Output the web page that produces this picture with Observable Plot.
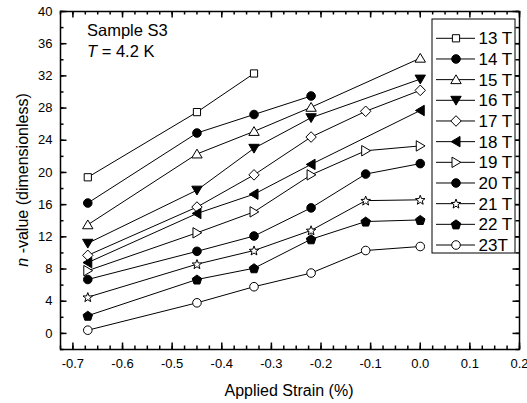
<!DOCTYPE html>
<html><head><meta charset="utf-8">
<script src="https://cdn.jsdelivr.net/npm/d3@7"></script>
<script src="https://cdn.jsdelivr.net/npm/@observablehq/plot@0.6"></script>
<style>
body{margin:0;background:#fff;}
#chart{position:relative;width:527px;height:403px;}
svg{font-family:"Liberation Sans",Arial,sans-serif;}
</style>
</head><body><div id="chart"></div>
<script>
// ---- data ----
const fieldLabels = ["13 T","14 T","15 T","16 T","17 T","18 T","19 T","20 T","21 T","22 T","23T"];
const strain13 = [-0.67,-0.45,-0.335];                 const n13 = [19.4,27.5,32.3];
const strain14 = [-0.67,-0.45,-0.335,-0.22];           const n14 = [16.2,24.9,27.2,29.5];
const strain15 = [-0.67,-0.45,-0.335,-0.22,0];         const n15 = [13.5,22.3,25.1,28.1,34.2];
const strain16 = [-0.67,-0.45,-0.335,-0.22,0];         const n16 = [11.2,17.8,23.0,26.8,31.6];
const strain17 = [-0.67,-0.45,-0.335,-0.22,-0.11,0];   const n17 = [9.7,15.7,19.7,24.4,27.6,30.2];
const strain18 = [-0.67,-0.45,-0.335,-0.22,0];         const n18 = [8.8,14.9,17.3,21.0,27.7];
const strain19 = [-0.67,-0.45,-0.335,-0.22,-0.11,0];   const n19 = [7.8,12.5,15.1,19.7,22.7,23.3];
const strain20 = [-0.67,-0.45,-0.335,-0.22,-0.11,0];   const n20 = [6.7,10.2,12.1,15.6,19.8,21.1];
const strain21 = [-0.67,-0.45,-0.335,-0.22,-0.11,0];   const n21 = [4.5,8.6,10.3,12.8,16.5,16.6];
const strain22 = [-0.67,-0.45,-0.335,-0.22,-0.11,0];   const n22 = [2.2,6.7,8.1,11.7,13.9,14.1];
const strain23 = [-0.67,-0.45,-0.335,-0.22,-0.11,0];   const n23 = [0.4,3.8,5.8,7.5,10.3,10.8];
const xTickValues = [-0.7,-0.6,-0.5,-0.4,-0.3,-0.2,-0.1,0.0,0.1,0.2];
const yTickValues = [0,4,8,12,16,20,24,28,32,36,40];

const strainSets = [strain13,strain14,strain15,strain16,strain17,strain18,strain19,strain20,strain21,strain22,strain23];
const nSets = [n13,n14,n15,n16,n17,n18,n19,n20,n21,n22,n23];

// ---- marker shapes ----
function poly(pts){ return {draw(ctx){ ctx.moveTo(pts[0][0],pts[0][1]); for(let i=1;i<pts.length;i++) ctx.lineTo(pts[i][0],pts[i][1]); ctx.closePath(); }}; }
function circ(r){ return {draw(ctx){ ctx.moveTo(r,0); ctx.arc(0,0,r,0,2*Math.PI); ctx.closePath(); }}; }
function star(ro,ri){ const p=[]; for(let i=0;i<10;i++){ const a=-Math.PI/2+i*Math.PI/5, r=i%2?ri:ro; p.push([r*Math.cos(a), r*Math.sin(a)+0.4]); } return poly(p); }
function pent(r){ const p=[]; for(let i=0;i<5;i++){ const a=-Math.PI/2+i*2*Math.PI/5; p.push([r*Math.cos(a), r*Math.sin(a)+0.5]); } return poly(p); }
const markers = [
  {sym: poly([[-3.6,-3.6],[3.6,-3.6],[3.6,3.6],[-3.6,3.6]]), fill:"white"},
  {sym: circ(4.3), fill:"black"},
  {sym: poly([[0,-4.8],[5.2,4],[-5.2,4]]), fill:"white"},
  {sym: poly([[0,4.8],[5.2,-4],[-5.2,-4]]), fill:"black"},
  {sym: poly([[0,-5.3],[5.2,0],[0,5.3],[-5.2,0]]), fill:"white"},
  {sym: poly([[-4.8,0],[4,-5.2],[4,5.2]]), fill:"black"},
  {sym: poly([[4.8,0],[-4,-5.2],[-4,5.2]]), fill:"white"},
  {sym: circ(4.3), fill:"black"},
  {sym: star(5,2.1), fill:"white"},
  {sym: pent(5), fill:"black"},
  {sym: circ(4.3), fill:"white"}
];

const rows = fieldLabels.map((f,i)=> strainSets[i].map((s,j)=>({field:f, strain:s, n:nSets[i][j]})));

const fmt = d => d.toFixed(1);
const xMinor = d3.range(-29, 9).map(i=>i*0.025).filter(v=>v>=-0.7251 && v<=0.2001);
const yMinor = d3.range(-1, 21).map(i=>i*2);

const W = 527, H = 403, mL = 60, mR = 8, mT = 11, mB = 54;
const fw = W - mL - mR, fh = H - mT - mB;
// inward ticks on all four sides (ticks span the frame minus insets)
const tx = (data, side, len) => Plot.tickX(data, {x: d=>d, stroke:"black", strokeWidth:1.5,
  insetTop: side === "bottom" ? fh - len : 0, insetBottom: side === "top" ? fh - len : 0});
const ty = (data, side, len) => Plot.tickY(data, {y: d=>d, stroke:"black", strokeWidth:1.5,
  insetRight: side === "left" ? fw - len : 0, insetLeft: side === "right" ? fw - len : 0});

const marks = [
  Plot.frame({stroke:"black", strokeWidth:1.5}),
  tx(xMinor, "bottom", 3.5), tx(xTickValues, "bottom", 6.5),
  tx(xMinor, "top", 3.5), tx(xTickValues, "top", 6.5),
  ty(yMinor, "left", 3.5), ty(yTickValues, "left", 6.5),
  ty(yMinor, "right", 3.5), ty(yTickValues, "right", 6.5),
  Plot.axisX(xTickValues, {anchor:"bottom", tickSize:0, tickPadding:9.5, tickFormat:fmt, fontSize:13, label:null, fill:"black"}),
  Plot.axisY(yTickValues, {anchor:"left", tickSize:0, tickPadding:8, tickFormat:d=>String(d), fontSize:13, label:null, fill:"black"})
];
rows.forEach((r,i)=>{
  marks.push(Plot.line(r, {x:"strain", y:"n", stroke:"black", strokeWidth:1}));
});
rows.forEach((r,i)=>{
  marks.push(Plot.dot(r, {x:"strain", y:"n", symbol: markers[i].sym, fill: markers[i].fill, stroke:"black", strokeWidth:1}));
});

const plot = Plot.plot({
  width:W, height:H,
  marginLeft:mL, marginRight:mR, marginTop:mT, marginBottom:mB,
  style:{fontFamily:'"Liberation Sans",Arial,sans-serif', color:"black", background:"white"},
  x:{domain:[-0.725,0.2]},
  y:{domain:[-2,40]},
  marks
});
document.getElementById("chart").appendChild(plot);

const svg = d3.select(plot);

// ---- annotations, axis titles and legend ----
const ff = '"Liberation Sans",Arial,sans-serif';
const txt = (sel) => sel.append("text").attr("font-family",ff).attr("fill","black").attr("text-anchor","start");
txt(svg).attr("x",87).attr("y",36).attr("font-size",16.5).text("Sample S3");
const t2 = txt(svg).attr("x",87).attr("y",57).attr("font-size",16.5);
t2.append("tspan").attr("font-style","italic").text("T");
t2.append("tspan").text(" = 4.2 K");

txt(svg).attr("x",289).attr("y",396).attr("text-anchor","middle").attr("font-size",16).text("Applied Strain (%)");
const yt = txt(svg).attr("transform","translate(28,180) rotate(-90)").attr("text-anchor","middle").attr("font-size",16);
yt.append("tspan").attr("font-style","italic").text("n");
yt.append("tspan").text(" -value (dimensionless)");

const lg = svg.append("g");
lg.append("rect").attr("x",432).attr("y",19).attr("width",83).attr("height",234).attr("fill","white").attr("stroke","black").attr("stroke-width",1);
fieldLabels.forEach((f,i)=>{
  const cy = 38.3 + i*20.67;
  lg.append("line").attr("x1",436).attr("x2",475).attr("y1",cy).attr("y2",cy).attr("stroke","black").attr("stroke-width",1);
  const p = d3.path(); markers[i].sym.draw(p, 0);
  lg.append("path").attr("d",p.toString()).attr("transform",`translate(456,${cy})`).attr("fill",markers[i].fill).attr("stroke","black").attr("stroke-width",1);
  txt(lg).attr("x",478.5).attr("y",cy+6.1).attr("font-size",17).text(f);
});
</script>
</body></html>
